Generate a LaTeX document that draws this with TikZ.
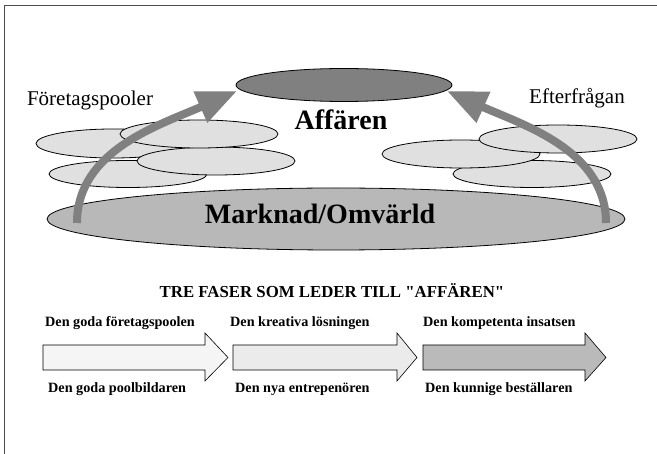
\documentclass[tikz,border=0pt]{standalone}
\usepackage{fontspec}
\setmainfont{Liberation Serif}
\usepackage{xcolor}
\usepackage{tikz}
\usetikzlibrary{arrows.meta}

\definecolor{poolgray}{gray}{0.88}
\definecolor{markgray}{gray}{0.72}
\definecolor{affgray}{gray}{0.5}
\definecolor{pilgray}{gray}{0.5}

\begin{document}
\begin{tikzpicture}[x=1pt, y=-1pt,
  pool/.style={draw=black, fill=poolgray, line width=0.8pt},
  bigarrow/.style={draw=pilgray, line width=8pt, -{Triangle[length=40pt, width=32pt]}},
  lbl/.style={anchor=west, inner sep=0pt, font=\fontsize{14.2}{16}\selectfont\bfseries}]
\useasboundingbox (0,0) rectangle (657,454);

%Frame
\draw[line width=1.5pt, black!70] (4.5,454) -- (4.5,5.5) -- (657,5.5);

%Market
\filldraw[fill=markgray, draw=black, line width=0.8pt] (336,219) ellipse (289 and 31);
\filldraw[fill=affgray, draw=black, line width=0.8pt] (344,85) ellipse (108 and 16.5);

%Pools left
\filldraw[pool] (128,174) ellipse (79 and 13.5);
\filldraw[pool] (113,143.5) ellipse (77 and 14.5);
\filldraw[pool] (216,161) ellipse (79 and 14);
\filldraw[pool] (199,134) ellipse (79 and 14);

%Pools right
\filldraw[pool] (532,174) ellipse (79 and 13.5);
\filldraw[pool] (461,154) ellipse (79 and 14);
\filldraw[pool] (558,139) ellipse (79 and 14);

%Arrows up
\draw[bigarrow] (77,223) .. controls (77,150) and (160,125) .. (237,91);
\draw[bigarrow] (606,223) .. controls (606,150) and (523,125) .. (447,91);

%Texts
\node (pooler) at (90,100) {\fontsize{21}{24}\selectfont Företagspooler};
\node (efter) at (577,98) {\fontsize{21}{24}\selectfont Efterfrågan};
\node (affaren) at (341,120) {\fontsize{28}{32}\selectfont\bfseries Affären};
\node (marknad) at (320,214) {\fontsize{28}{32}\selectfont\bfseries Marknad/Omvärld};
\node (faser) at (332,291) {\fontsize{16.8}{19}\selectfont\bfseries TRE FASER SOM LEDER TILL \textquotedbl AFFÄREN\textquotedbl};

%Phases
\filldraw[fill=black!4, draw=black, line width=0.6pt] (43,345) -- (205,345) -- (205,333) -- (228,357.5) -- (205,381) -- (205,370) -- (43,370) -- cycle;
\filldraw[fill=black!8, draw=black, line width=0.6pt] (233,345) -- (397,345) -- (397,333) -- (417,357.5) -- (397,381) -- (397,370) -- (233,370) -- cycle;
\filldraw[fill=black!27, draw=black, line width=0.6pt] (423,345) -- (585,345) -- (585,333) -- (606,357.5) -- (585,381) -- (585,370) -- (423,370) -- cycle;

\node[lbl] (fas1a) at (45,323) {Den goda företagspoolen};
\node[lbl] (fas2a) at (230,323) {Den kreativa lösningen};
\node[lbl] (fas3a) at (423,323) {Den kompetenta insatsen};
\node[lbl] (fas1b) at (48,389) {Den goda poolbildaren};
\node[lbl] (fas2b) at (235,389) {Den nya entrepenören};
\node[lbl] (fas3b) at (425,389) {Den kunnige beställaren};
\end{tikzpicture}
\end{document}
